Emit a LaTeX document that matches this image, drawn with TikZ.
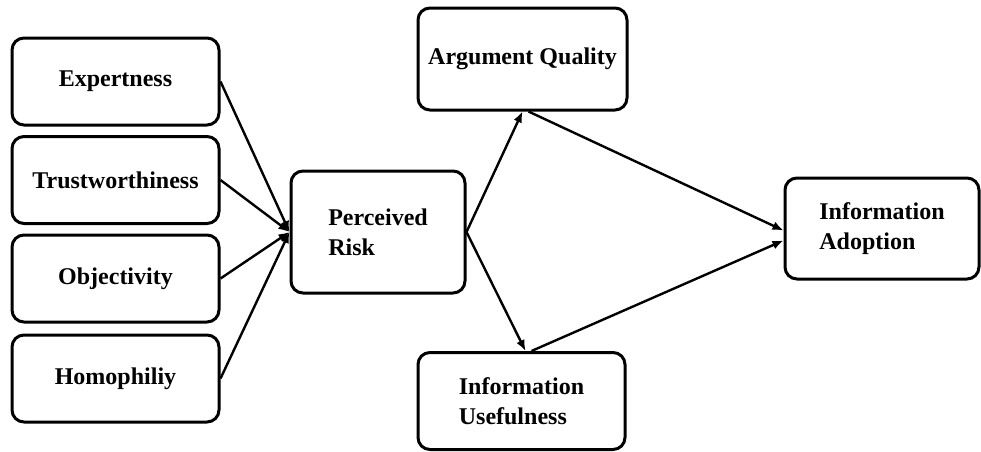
\documentclass[tikz,border=0pt]{standalone}
\usepackage{fontspec}
\setmainfont{Liberation Serif}
\usepackage{tikz}
\usetikzlibrary{positioning,arrows.meta}
\tikzset{
  factor/.style={draw, line width=1.5pt, rounded corners=6pt, align=center, minimum width=103.5pt, minimum height=43.5pt, inner sep=2pt},
  construct/.style={draw, line width=1.5pt, rounded corners=6pt, align=left, inner sep=2pt},
  arrow/.style={-{Latex[length=5.5pt,width=4.5pt]}, line width=1.2pt}
}

\begin{document}
\begin{tikzpicture}[x=0.5pt, y=-0.5pt, font=\fontsize{12}{15}\selectfont\bfseries]
  \useasboundingbox (0,0) rectangle (981,451);
  % credibility factors
  \node[factor] (exp) at (115.5,81.5) {Expertness};
  \node[factor] (trust) at (115.5,180) {Trustworthiness};
  \node[factor] (obj) at (115.5,278.5) {Objectivity};
  \node[factor] (homo) at (115.5,378.5) {Homophiliy};
  % mediators and outcome
  \node[construct, minimum width=87pt, minimum height=61pt] (risk) at (378,232) {Perceived\\Risk};
  \node[construct, align=center, minimum width=104.5pt, minimum height=51pt] (quality) at (522.5,59) {Argument Quality};
  \node[construct, minimum width=103.5pt, minimum height=48.5pt] (useful) at (521.5,401) {Information\\Usefulness};
  \node[construct, minimum width=97pt, minimum height=50.5pt] (adopt) at (882,228.5) {Information\\Adoption};

  \draw[arrow] (exp.east) -- (risk.west);
  \draw[arrow] (trust.east) -- (risk.west);
  \draw[arrow] (obj.east) -- (risk.west);
  \draw[arrow] (homo.east) -- (risk.west);
  \draw[arrow] (risk.east) -- (quality.south);
  \draw[arrow] (risk.east) -- ([xshift=2pt]useful.north);
  \draw[arrow] ([xshift=3pt]quality.south) -- ([yshift=-1pt]adopt.west);
  \draw[arrow] ([xshift=5pt]useful.north) -- ([yshift=-6pt]adopt.west);
\end{tikzpicture}
\end{document}
